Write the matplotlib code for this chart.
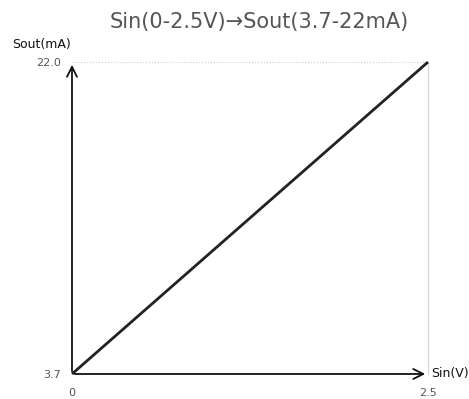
import matplotlib.pyplot as plt

# data
sin_v = [0, 2.5]
sout_ma = [3.7, 22.0]
x_ticks = [0, 2.5]
x_tick_labels = ["0", "2.5"]
y_ticks = [3.7, 22.0]
y_tick_labels = ["3.7", "22.0"]

fig = plt.figure(figsize=(4.69, 3.99), dpi=100, facecolor="white")
ax = fig.add_axes([0.1535, 0.0627, 0.7591, 0.7819])
ax.set_xlim(0, 2.5)
ax.set_ylim(3.7, 22.0)
for s in ax.spines.values():
    s.set_visible(False)

# light guides at top and right
ax.plot([0, 2.5], [22.0, 22.0], color="#cccccc", lw=0.8, ls=":", clip_on=False)
ax.plot([2.5, 2.5], [3.7, 22.0], color="#d5d5d5", lw=0.8, clip_on=False)

# axes with arrows
ax.annotate("", xy=(2.5, 3.7), xytext=(0, 3.7),
            arrowprops=dict(arrowstyle="->", color="#111111", lw=1.3, mutation_scale=18),
            annotation_clip=False)
ax.annotate("", xy=(0, 22.0), xytext=(0, 3.7),
            arrowprops=dict(arrowstyle="->", color="#111111", lw=1.3, mutation_scale=18),
            annotation_clip=False)

ax.plot(sin_v, sout_ma, color="#222222", lw=2, solid_capstyle="butt", clip_on=False)

ax.set_xticks(x_ticks)
ax.set_xticklabels(x_tick_labels)
ax.set_yticks(y_ticks)
ax.set_yticklabels(y_tick_labels)
ax.tick_params(length=0, labelsize=8, colors="#555555", pad=8)
ax.tick_params(axis="x", pad=10)

ax.text(-0.087, 1.035, "Sout(mA)", transform=ax.transAxes, ha="center", va="bottom",
        fontsize=9, color="#111111")
ax.text(1.01, 0.0, "Sin(V)", transform=ax.transAxes, ha="left", va="center",
        fontsize=9, color="#111111")

fig.text(0.552, 0.945, "Sin(0-2.5V)→Sout(3.7-22mA)", ha="center", va="center",
         fontsize=15, color="#555555")

fig.savefig("out.png", dpi=100, facecolor="white")
